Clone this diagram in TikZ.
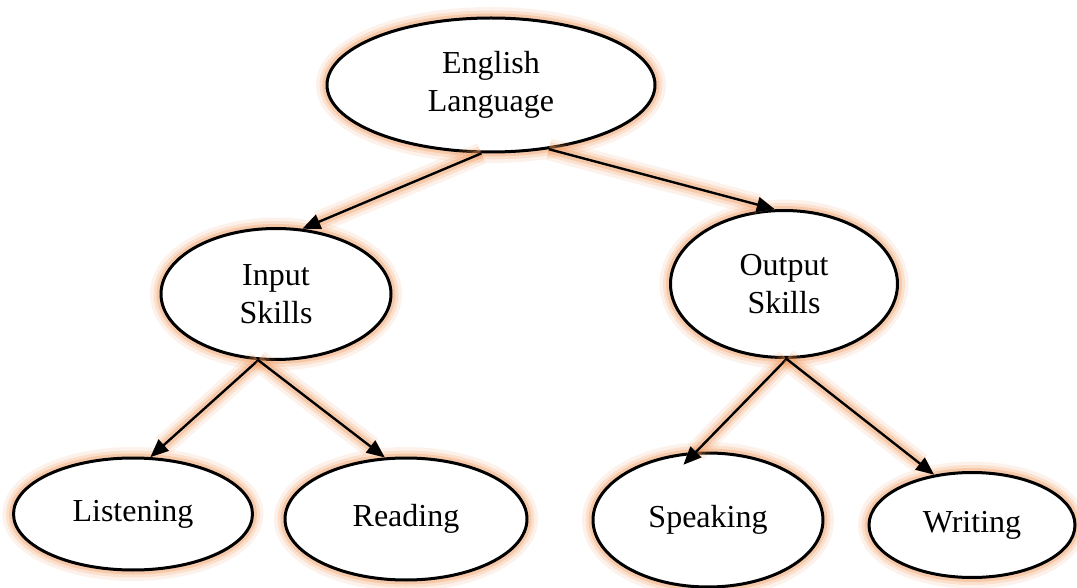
\documentclass[tikz,border=0pt]{standalone}
\usepackage{fontspec}
\setmainfont{Liberation Serif}
\usepackage{tikz}
\usetikzlibrary{shapes.geometric,arrows.meta}

\definecolor{glow}{RGB}{240,150,90}

\tikzset{
    halo/.style={preaction={draw=glow, line width=11pt, opacity=.12},
                 preaction={draw=glow, line width=7.5pt, opacity=.2},
                 preaction={draw=glow, line width=4.5pt, opacity=.3}},
    skill/.style={ellipse, draw, fill=white, line width=1.5pt, halo, inner sep=0pt,
                  align=center, font=\fontsize{16}{19}\selectfont},
    arr/.style={line width=1.2pt, halo, -{Triangle[length=9pt,width=7.5pt]}}
}

\begin{document}
\begin{tikzpicture}[x=0.5pt, y=-0.5pt]
    \useasboundingbox (0,0) rectangle (1077,588);
    \node[skill, minimum width=164pt, minimum height=67pt] (eng) at (491,85) {English\\Language};
    \node[skill, minimum width=115pt, minimum height=65.5pt] (inp) at (276,294) {Input\\Skills};
    \node[skill, minimum width=113.5pt, minimum height=73.5pt] (out) at (784,284) {Output\\Skills};
    \node[skill, minimum width=119.5pt, minimum height=56pt] (lis) at (133,514) {Listening};
    \node[skill, minimum width=121pt, minimum height=61pt] (rea) at (406,519) {Reading};
    \node[skill, minimum width=115pt, minimum height=67pt] (spk) at (708,520) {Speaking};
    \node[skill, minimum width=103pt, minimum height=52.5pt] (wri) at (972,525) {Writing};
    \draw[arr] (eng.262) -- (inp.68);
    \draw[arr] (eng.312) -- (out.97);
    \draw[arr] (inp.255) -- (lis.73);
    \draw[arr] (inp.255) -- (rea.109);
    \draw[arr, shorten >=-9pt] (out.272) -- (spk.100);
    \draw[arr] (out.272) -- (wri.127);
\end{tikzpicture}
\end{document}
